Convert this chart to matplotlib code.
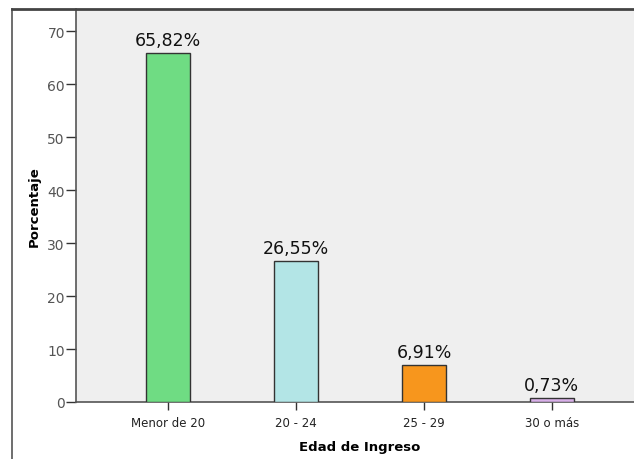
import matplotlib.pyplot as plt
from matplotlib.lines import Line2D

categorias = ["Menor de 20", "20 - 24", "25 - 29", "30 o más"]
porcentajes = [65.82, 26.55, 6.91, 0.73]
etiquetas = ["65,82%", "26,55%", "6,91%", "0,73%"]
colores = ["#6fdc83", "#b3e5e6", "#f7961d", "#d8b0e8"]
yticks = [0, 10, 20, 30, 40, 50, 60, 70]

fig = plt.figure(figsize=(6.34, 4.60), dpi=100)
fig.patch.set_facecolor("white")

# plot area runs off the right edge of the figure
ax = fig.add_axes([76 / 634, 57 / 460, 568 / 634, 393 / 460])
ax.set_facecolor("#efefef")

x = range(len(categorias))
ax.bar(x, porcentajes, width=0.35, color=colores, edgecolor="#333333", linewidth=1, zorder=3)

for xi, v, t in zip(x, porcentajes, etiquetas):
    ax.annotate(t, (xi, v), xytext=(0, 3), textcoords="offset points",
                ha="center", va="bottom", fontsize=12.5, color="#111111")

ax.set_xlim(-0.72, 3.72)
ax.set_ylim(0, 74.2)
ax.set_xticks(list(x))
ax.set_xticklabels(categorias, fontsize=8.5, color="#222222")
ax.set_yticks(yticks)
ax.set_yticklabels([str(t) for t in yticks], fontsize=10, color="#555555")
ax.tick_params(axis="x", direction="out", length=6, width=1, color="#333333", pad=4)
ax.tick_params(axis="y", direction="out", length=7, width=1, color="#333333", pad=1)

for s in ["left", "bottom"]:
    ax.spines[s].set_color("#555555")
    ax.spines[s].set_linewidth(1.2)
ax.spines["top"].set_visible(False)
ax.spines["right"].set_visible(False)

ax.set_xlabel("Edad de Ingreso", fontsize=9.5, fontweight="bold", labelpad=8)
ax.set_ylabel("Porcentaje", fontsize=9.5, fontweight="bold", labelpad=5)

# outer frame: left edge and top edge shared with the plot area
top = 1 - 10 / 460
fig.add_artist(Line2D([12 / 634, 12 / 634], [0, top], color="#555555", lw=1.2))
fig.add_artist(Line2D([12 / 634, 1], [top, top], color="#444444", lw=2))

fig.savefig("out.png", dpi=100)
